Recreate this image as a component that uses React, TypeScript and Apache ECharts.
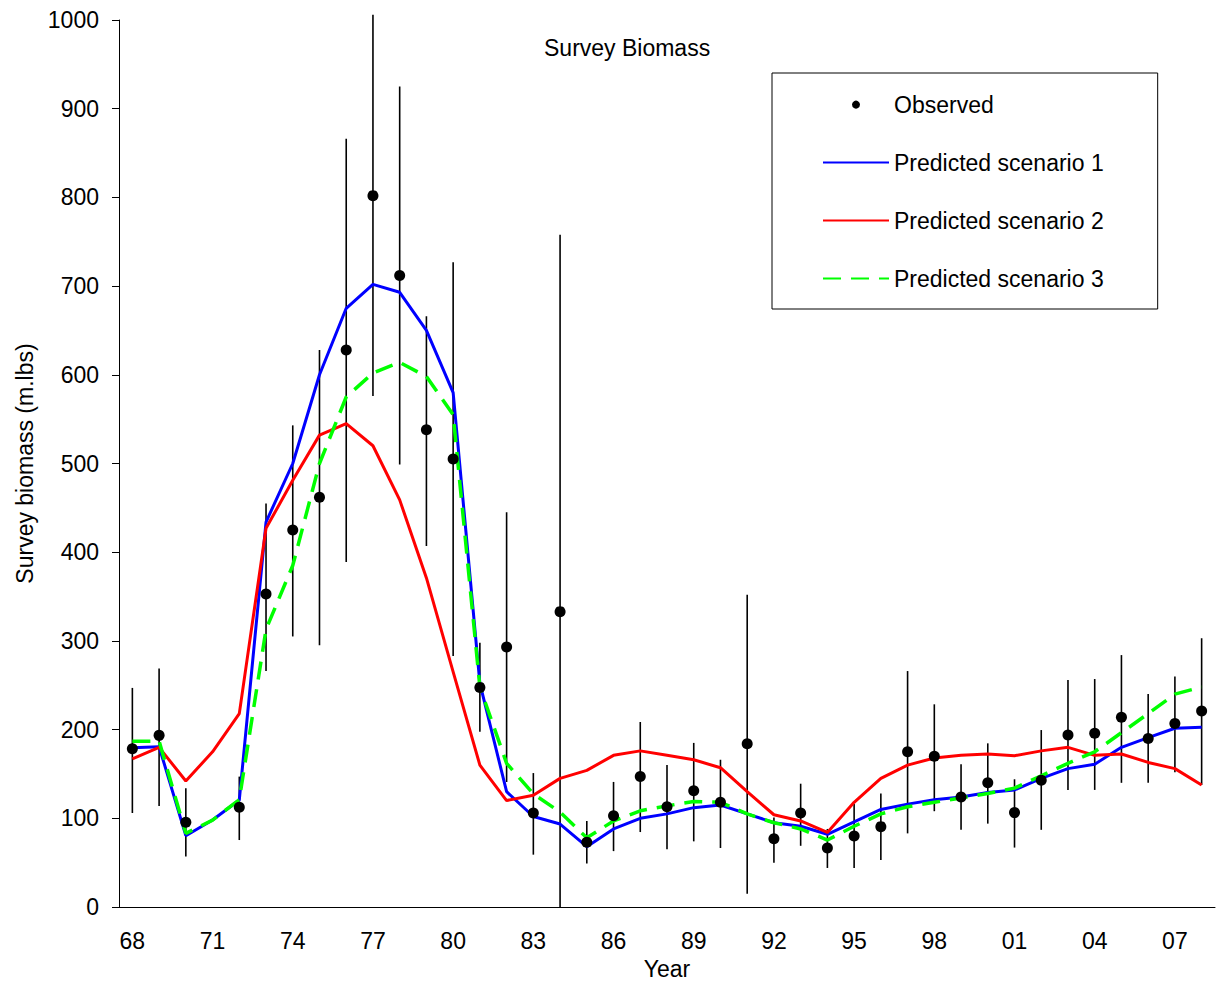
import React, { useEffect, useRef } from 'react';
import * as echarts from 'echarts';

const years = ['68','69','70','71','72','73','74','75','76','77','78','79','80','81','82','83','84','85','86','87','88','89','90','91','92','93','94','95','96','97','98','99','00','01','02','03','04','05','06','07','08'];

const observed = [178.5, 193.5, 95.5, null, 112.4, 353, 425, 462, 628, 802, 712, 538, 505, 247.6, 293, 106, 333, 73, 103, 147, 113, 131, 118, 184, 77, 106, 66.5, 80, 90.6, 175, 170, 124, 140, 106.4, 143, 194, 196, 214, 190, 207, 221];
const lower = [106, 114, 57, null, 75.5, 266, 305, 295, 389, 576, 499, 407, 283, 197.5, 141, 59, 0, 49, 63, 84.5, 65, 74, 66.5, 15, 50, 69, 44, 44, 53, 83, 108, 87, 94, 67, 87, 132, 132, 140, 140, 152, 137.5];
const upper = [247, 269, 134, null, 147, 455, 543, 628, 866, 1006, 925, 666, 727, 298, 445, 151, 758, 97, 141, 208.6, 160, 185, 166, 352, 101, 139, 88, 116, 128, 266, 228.5, 161, 184.5, 144, 199.5, 256, 257, 284, 240, 260, 303];

const scenario1 = [179.6, 180.7, 80.4, 98, 120.6, 434, 500, 600, 675, 702, 693, 650, 580, 252, 130, 102, 93.5, 68, 88, 100, 105, 112, 115, 105, 95, 91, 82, 96, 110, 116, 121, 124, 129, 132, 145, 156, 161, 180, 191, 201.5, 202.6];
const scenario2 = [167, 180, 142, 175, 218, 427, 481, 532, 545, 520, 459, 371, 265, 160, 120, 126, 145, 154, 171, 176, 171, 166, 157, 130, 104, 97, 84, 118, 145, 160, 168, 171, 172.5, 170.6, 176, 180, 171, 172.5, 163, 156, 137.5];
const scenario3 = [187, 187, 83, 98, 121, 313, 385, 500, 575, 602, 614, 598, 555, 248, 162, 127.5, 107, 78, 97, 108.5, 114, 119, 118, 105, 95, 88, 75.5, 91, 105, 113, 118, 123, 128, 134, 148, 162, 175, 196.5, 218, 240, 248];

const seriesNames = ['Observed', 'Predicted scenario 1', 'Predicted scenario 2', 'Predicted scenario 3'];
const titleText = 'Survey Biomass';
const xName = 'Year';
const yName = 'Survey biomass (m.lbs)';

export default function App() {
  const ref = useRef<HTMLDivElement>(null);
  useEffect(() => {
    const chart = echarts.init(ref.current!, null, { renderer: 'svg' });
    const font = '"Liberation Sans", Arial, sans-serif';
    const errData: any[] = [];
    years.forEach((_, i) => {
      if (lower[i] != null && upper[i] != null) errData.push([i, lower[i], upper[i]]);
    });
    const hiddenSymbol = { color: 'rgba(0,0,0,0)', borderWidth: 0, opacity: 0 };
    chart.setOption({
      animation: false,
      backgroundColor: '#fff',
      textStyle: { fontFamily: font, color: '#000' },
      title: {
        text: titleText,
        left: 544,
        top: 36,
        padding: 0,
        textStyle: { fontSize: 23, fontWeight: 'normal', color: '#000', fontFamily: font },
      },
      legend: {
        orient: 'vertical',
        left: 772,
        top: 73,
        data: [
          { name: seriesNames[0] },
          { name: seriesNames[1], itemStyle: hiddenSymbol },
          { name: seriesNames[2], itemStyle: hiddenSymbol },
          { name: seriesNames[3], itemStyle: hiddenSymbol },
        ],
        backgroundColor: '#fff',
        borderColor: '#000',
        borderWidth: 1,
        padding: [19.6, 54, 18.4, 50],
        itemWidth: 66,
        itemHeight: 8,
        itemGap: 34,
        selectedMode: false,
        textStyle: { fontSize: 23, color: '#000', lineHeight: 24, fontFamily: font },
      },
      grid: { left: 119, right: 5, top: 20, bottom: 80, containLabel: false },
      xAxis: {
        type: 'category',
        data: years,
        boundaryGap: true,
        name: xName,
        nameLocation: 'middle',
        nameGap: 50,
        nameTextStyle: { fontSize: 23, color: '#000', fontFamily: font },
        axisLine: { lineStyle: { color: '#000', width: 1 } },
        axisTick: { interval: 0, length: 7, lineStyle: { color: '#000', width: 1 } },
        axisLabel: { interval: 2, fontSize: 23, color: '#000', margin: 22, fontFamily: font },
        splitLine: { show: false },
      },
      yAxis: {
        type: 'value',
        min: 0,
        max: 1000,
        interval: 100,
        name: yName,
        nameLocation: 'middle',
        nameGap: 83,
        nameTextStyle: { fontSize: 23, color: '#000', fontFamily: font },
        axisLine: { show: true, lineStyle: { color: '#000', width: 1 } },
        axisTick: { show: true, length: 7, lineStyle: { color: '#000', width: 1 } },
        axisLabel: { fontSize: 23, color: '#000', margin: 20, fontFamily: font, formatter: (v: number) => String(v) },
        splitLine: { show: false },
      },
      series: [
        {
          type: 'custom',
          name: 'Error',
          data: errData,
          clip: false,
          z: 1,
          encode: { x: 0, y: [1, 2] },
          renderItem: (params: any, api: any) => {
            const x = api.value(0);
            const p1 = api.coord([x, api.value(1)]);
            const p2 = api.coord([x, api.value(2)]);
            return {
              type: 'line',
              shape: { x1: p1[0], y1: p1[1], x2: p2[0], y2: p2[1] },
              style: { stroke: '#000', lineWidth: 1.6 },
            };
          },
        },
        {
          type: 'line',
          name: seriesNames[1],
          data: scenario1,
          symbol: 'none',
          z: 3,
          itemStyle: { color: '#0000ff' },
          lineStyle: { color: '#0000ff', width: 3 },
        },
        {
          type: 'line',
          name: seriesNames[2],
          data: scenario2,
          symbol: 'none',
          z: 3,
          itemStyle: { color: '#ff0000' },
          lineStyle: { color: '#ff0000', width: 3 },
        },
        {
          type: 'line',
          name: seriesNames[3],
          data: scenario3,
          symbol: 'none',
          z: 3,
          itemStyle: { color: '#00ff00' },
          lineStyle: { color: '#00ff00', width: 3.5, type: [18, 10] },
        },
        {
          type: 'scatter',
          name: seriesNames[0],
          data: observed,
          symbol: 'circle',
          symbolSize: 11,
          z: 5,
          itemStyle: { color: '#000', opacity: 1 },
        },
      ],
    });
    return () => chart.dispose();
  }, []);
  return (
    <div
      ref={ref}
      style={{ position: 'fixed', left: 0, top: 0, width: 1220, height: 987, background: '#fff' }}
    />
  );
}
